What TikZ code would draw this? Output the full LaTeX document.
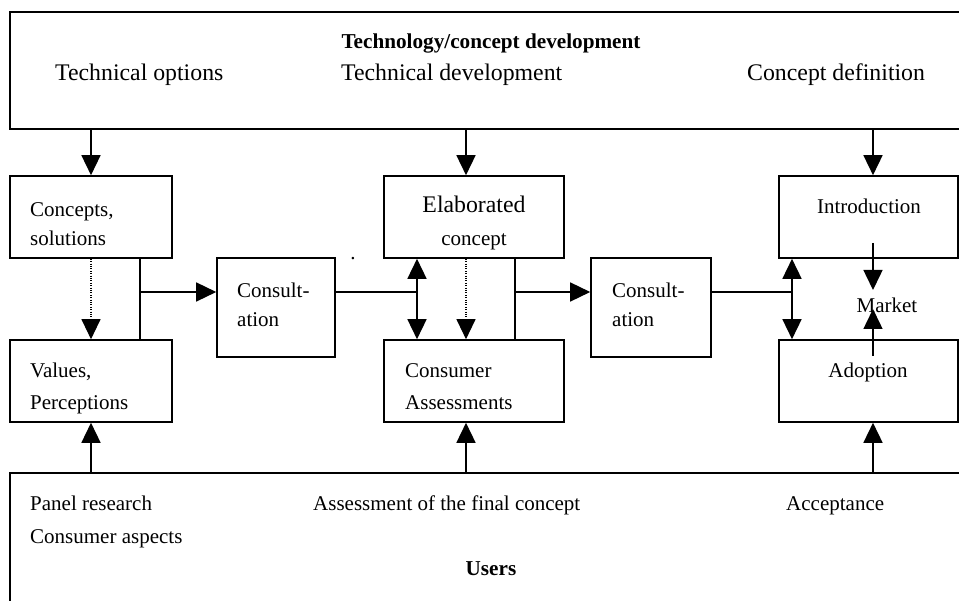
\documentclass[tikz,border=0pt]{standalone}
\usepackage{fontspec}
\setmainfont{Liberation Serif}
\usetikzlibrary{arrows.meta}

\tikzset{
  box/.style={draw, line width=1.6pt, rectangle, inner sep=0pt},
  conn/.style={line width=1.5pt},
  arr/.style={conn, -{Triangle[width=19pt,length=20pt]}},
  arrboth/.style={conn, {Triangle[width=19pt,length=20pt]}-{Triangle[width=19pt,length=20pt]}},
  dots/.style={line width=1.1pt, dash pattern=on 1.1pt off 1.3pt},
  dotarr/.style={dots, -{Triangle[width=19pt,length=20pt]}},
  txt/.style={inner sep=0pt, anchor=base west, font=\fontsize{21}{25}\selectfont},
  txtc/.style={txt, anchor=base},
  big/.style={font=\fontsize{23.8}{28}\selectfont},
  bold/.style={font=\fontsize{21.2}{25}\selectfont\bfseries}
}

\begin{document}
\begin{tikzpicture}[x=1pt, y=-1pt]
\useasboundingbox (0,0) rectangle (959,601);

% bands across the top and the bottom (open to the right)
\node[box, minimum width=962pt, minimum height=117pt] (top) at (491,70.5) {};
\node[box, minimum width=962pt, minimum height=140pt] (bottom) at (491,543) {};

% stage boxes
\node[box, minimum width=162pt, minimum height=82pt] (concepts) at (91,217) {};
\node[box, minimum width=162pt, minimum height=82pt] (values)   at (91,381) {};
\node[box, minimum width=118pt, minimum height=99pt] (consA)    at (276,307.5) {};
\node[box, minimum width=180pt, minimum height=82pt] (elab)     at (474,217) {};
\node[box, minimum width=180pt, minimum height=82pt] (consumer) at (474,381) {};
\node[box, minimum width=120pt, minimum height=99pt] (consB)    at (651,307.5) {};
\node[box, minimum width=179pt, minimum height=82pt] (intro)    at (868.5,217) {};
\node[box, minimum width=179pt, minimum height=82pt] (adopt)    at (868.5,381) {};

% texts of the top band
\node[txtc, bold] (ttitle) at (491,49) {Technology/concept development};
\node[txt, big] (topt) at (55,81) {Technical options};
\node[txt, big] (tdev) at (341,81) {Technical development};
\node[txt, big] (tdef) at (747,81) {Concept definition};

% texts of the stage boxes
\node[txt] (l1a) at (30,217) {Concepts,};
\node[txt] (l1b) at (30,246) {solutions};
\node[txt] (l2a) at (30,378) {Values,};
\node[txt] (l2b) at (30,410) {Perceptions};
\node[txt] (l3a) at (237,298) {Consult-};
\node[txt] (l3b) at (237,327) {ation};
\node[txtc, big] (l4a) at (474,213) {Elaborated};
\node[txtc] (l4b) at (474,246) {concept};
\node[txt] (l5a) at (405,378) {Consumer};
\node[txt] (l5b) at (405,410) {Assessments};
\node[txt] (l6a) at (612,298) {Consult-};
\node[txt] (l6b) at (612,327) {ation};
\node[txtc] (l7) at (869,214) {Introduction};
\node[txtc] (l8) at (887,313) {Market};
\node[txtc] (l9) at (868,378) {Adoption};
\node[txtc] (stray) at (353,260) {.};

% texts of the bottom band
\node[txt] (b1) at (30,511) {Panel research};
\node[txt] (b2) at (30,543) {Consumer aspects};
\node[txt] (b3) at (313,511) {Assessment of the final concept};
\node[txt] (b4) at (786,511) {Acceptance};
\node[txtc, bold] (b5) at (491,575) {Users};

% junction points
\coordinate (j1) at (140,292);
\coordinate (d1) at (417,292);
\coordinate (j2) at (515,292);
\coordinate (d2) at (792,292);
\coordinate (m1) at (873,243);
\coordinate (m2) at (873,290);
\coordinate (m3) at (873,356);
\coordinate (m4) at (873,309);
\coordinate (cx) at (91,0);
\coordinate (ex) at (466,0);
\coordinate (ix) at (873,0);

% from the top band down
\draw[arr] (top.south -| cx) -- (concepts.north -| cx);
\draw[arr] (top.south -| ex) -- (elab.north -| ex);
\draw[arr] (top.south -| ix) -- (intro.north -| ix);

% from the bottom band up
\draw[arr] (bottom.north -| cx) -- (values.south -| cx);
\draw[arr] (bottom.north -| ex) -- (consumer.south -| ex);
\draw[arr] (bottom.north -| ix) -- (adopt.south -| ix);

% dotted links
\draw[dotarr] (concepts.south -| cx) -- (values.north -| cx);
\draw[dotarr] (elab.south -| ex) -- (consumer.north -| ex);

% first consultation
\draw[conn] (concepts.south -| j1) -- (values.north -| j1);
\draw[arr] (j1) -- (consA.west |- j1);
\draw[conn] (consA.east |- d1) -- (d1);
\draw[arrboth] (elab.south -| d1) -- (consumer.north -| d1);

% second consultation
\draw[conn] (elab.south -| j2) -- (consumer.north -| j2);
\draw[arr] (j2) -- (consB.west |- j2);
\draw[conn] (consB.east |- d2) -- (d2);
\draw[arrboth] (intro.south -| d2) -- (adopt.north -| d2);

% market
\draw[arr] (m1) -- (m2);
\draw[arr] (m3) -- (m4);
\end{tikzpicture}
\end{document}
